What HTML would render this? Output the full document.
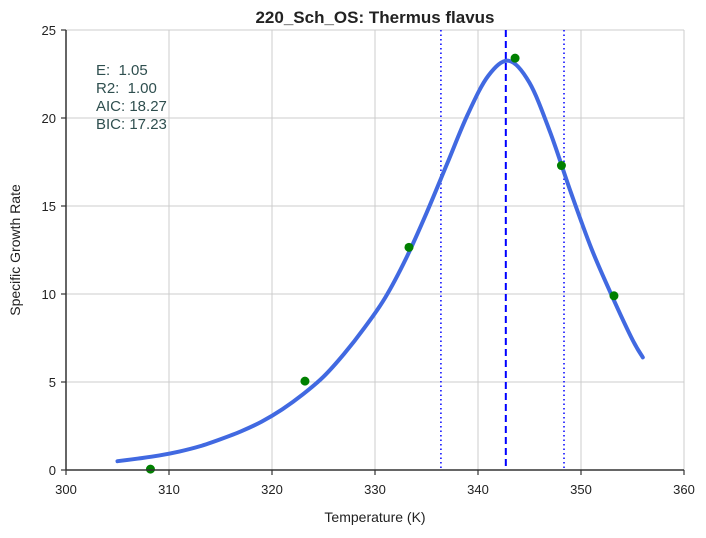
<!DOCTYPE html>
<html><head><meta charset="utf-8"><style>
body{margin:0;background:#fff;}
svg text{font-family:"Liberation Sans",sans-serif;white-space:pre;}
</style></head><body>
<svg width="706" height="533">
<g id="grid"></g>
<g id="marks"></g>
<g id="axes"></g>
<text x="375" y="23" text-anchor="middle" font-size="17" font-weight="bold" fill="#222">220_Sch_OS: Thermus flavus</text>
<text x="375" y="522" text-anchor="middle" font-size="14" fill="#222">Temperature (K)</text>
<text transform="translate(20,250) rotate(-90)" text-anchor="middle" font-size="14" fill="#222">Specific Growth Rate</text>
<g font-size="15" fill="#2f4f4f" xml:space="preserve">
<text x="96" y="75">E:  1.05</text>
<text x="96" y="93">R2:  1.00</text>
<text x="96" y="111">AIC: 18.27</text>
<text x="96" y="129">BIC: 17.23</text>
</g>
</svg>
<script>
const xTicks=[300,310,320,330,340,350,360];
const yTicks=[0,5,10,15,20,25];
const obsT=[308.2,323.2,333.3,343.6,348.1,353.2];
const obsR=[0.05,5.05,12.65,23.4,17.3,9.9];
const fitT=[305,307,309,311,313,315,317,319,321,323,325,327,329,331,333,335,337,339,341,343,345,347,349,351,353,355,356];
const fitR=[0.5,0.65,0.82,1.05,1.35,1.75,2.2,2.75,3.45,4.3,5.3,6.6,8.1,9.8,12.0,14.6,17.4,20.2,22.4,23.25,22.0,19.2,15.8,12.6,9.9,7.4,6.4];
const peakT=342.7, lowT=336.4, highT=348.35;
const X0=66,X1=684,Y0=470,Y1=30;
const sx=v=>X0+(v-300)/60*(X1-X0);
const sy=v=>Y0-v/25*(Y0-Y1);
const NS="http://www.w3.org/2000/svg";
function mk(p,tag,a){const e=document.createElementNS(NS,tag);for(const k in a)e.setAttribute(k,a[k]);document.getElementById(p).appendChild(e);return e;}
xTicks.forEach(t=>{
 const l=mk('grid','line',{x1:sx(t),x2:sx(t),y1:Y1,y2:Y0,stroke:'#cccccc','stroke-width':1});
 
 
 mk('axes','line',{x1:sx(t),x2:sx(t),y1:Y0,y2:Y0+5,stroke:'#333','stroke-width':1.2});
 const tx=mk('axes','text',{x:sx(t),y:Y0+24,'text-anchor':'middle','font-size':13,fill:'#222'});
 tx.textContent=t;
 
 
});
yTicks.forEach(t=>{
 const l=mk('grid','line',{x1:X0,x2:X1,y1:sy(t),y2:sy(t),stroke:'#cccccc','stroke-width':1});
 
 
 mk('axes','line',{x1:X0-5,x2:X0,y1:sy(t),y2:sy(t),stroke:'#333','stroke-width':1.2});
 const tx=mk('axes','text',{x:X0-10,y:sy(t)+5,'text-anchor':'end','font-size':13,fill:'#222'});
 tx.textContent=t;
 
 
});
const ax=mk('axes','line',{x1:X0,x2:X1,y1:Y0,y2:Y0,stroke:'#333','stroke-width':1.5});


const ay=mk('axes','line',{x1:X0,x2:X0,y1:Y1,y2:Y0,stroke:'#333','stroke-width':1.5});


[[lowT,'1.5 3','lower-bound-line'],[highT,'1.5 3','upper-bound-line'],[peakT,'7 4','peak-temp-line']].forEach(([t,d,n])=>{
 const l=mk('marks','line',{x1:sx(t),x2:sx(t),y1:Y1,y2:Y0,stroke:'#0000ff','stroke-width':n=='peak-temp-line'?2:1.5,'stroke-dasharray':d});
 
 
});
const pts=fitT.map((t,i)=>[sx(t),sy(fitR[i])]);
let d='M'+pts[0][0]+' '+pts[0][1];
for(let i=0;i<pts.length-1;i++){
 const p0=pts[Math.max(0,i-1)],p1=pts[i],p2=pts[i+1],p3=pts[Math.min(pts.length-1,i+2)];
 const c1=[p1[0]+(p2[0]-p0[0])/6,p1[1]+(p2[1]-p0[1])/6];
 const c2=[p2[0]-(p3[0]-p1[0])/6,p2[1]-(p3[1]-p1[1])/6];
 d+=` C${c1[0]} ${c1[1]} ${c2[0]} ${c2[1]} ${p2[0]} ${p2[1]}`;
}
const p=mk('marks','path',{d:d,fill:'none',stroke:'#4169e1','stroke-width':4,'stroke-linecap':'round','stroke-linejoin':'round'});


obsT.forEach((t,i)=>{
 const c=mk('marks','circle',{cx:sx(t),cy:sy(obsR[i]),r:4.5,fill:'#008000'});
 
 
});
</script>
</body></html>
